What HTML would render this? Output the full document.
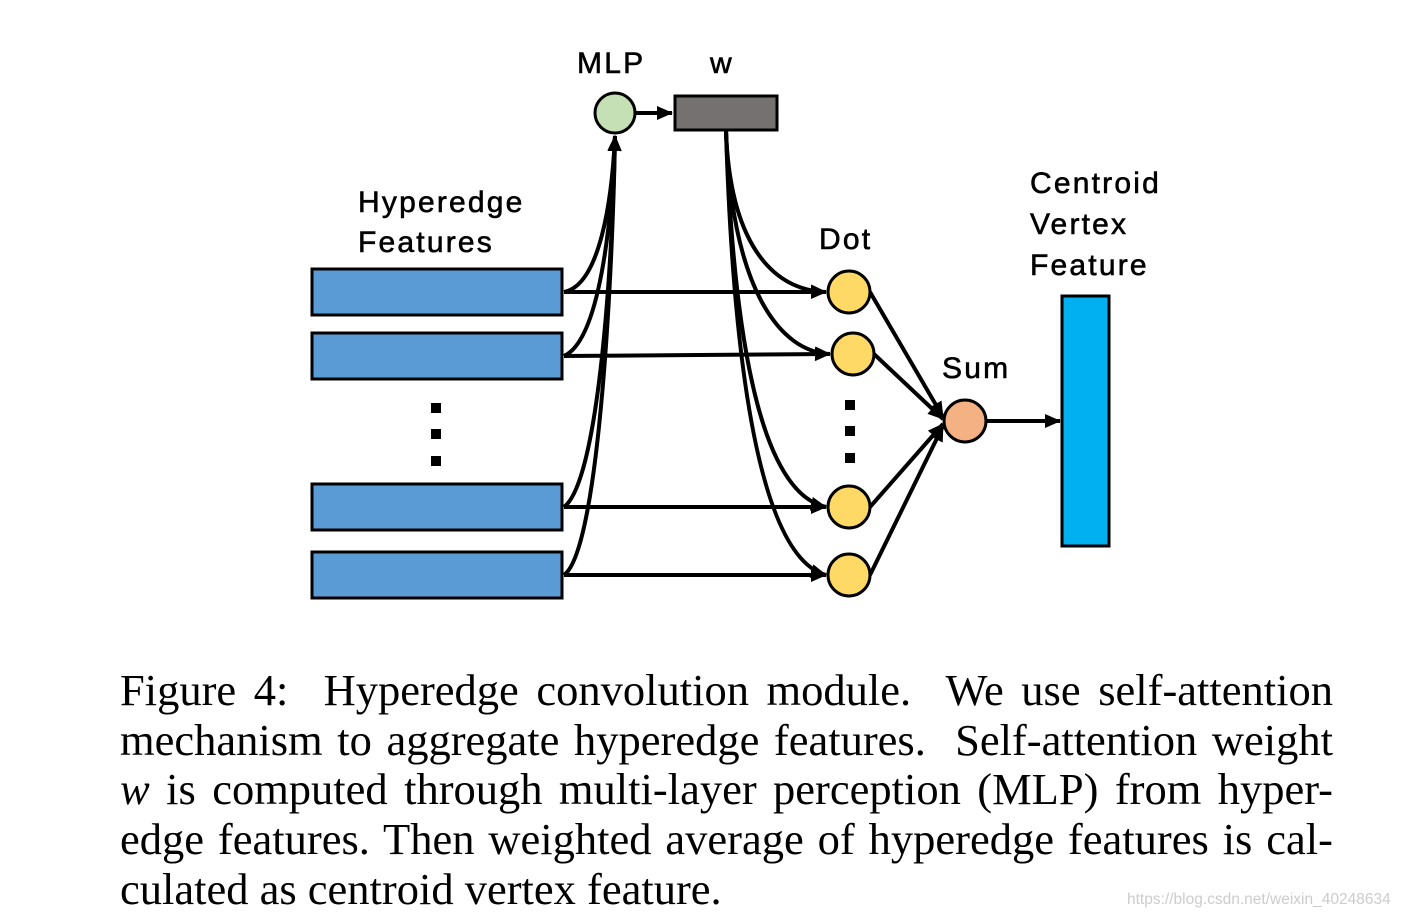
<!DOCTYPE html>
<html><head><meta charset="utf-8"><style>
body{margin:0;background:#fff;width:1408px;height:919px;overflow:hidden;position:relative}
.cap{position:absolute;left:120px;width:1213px;top:666px;font-family:"Liberation Serif",serif;font-size:44.5px;line-height:49.7px;text-align:justify;color:#000}
.cap div{text-align-last:justify;white-space:nowrap}
.cap div.last{text-align-last:left}
.wm{position:absolute;left:1127px;top:891px;font-family:"Liberation Sans",sans-serif;font-size:15.5px;color:#ccc}
</style></head><body>
<svg width="1408" height="919" style="position:absolute;left:0;top:0" xmlns="http://www.w3.org/2000/svg">
<defs><marker id="b" markerWidth="16" markerHeight="14" refX="15" refY="7" orient="auto" markerUnits="userSpaceOnUse"><path d="M0,0 L16,7 L0,14z" fill="#000"/></marker></defs>
<g font-family="Liberation Sans,sans-serif" font-size="30" letter-spacing="2.2" fill="#000" stroke="#000" stroke-width="0.6">
<text x="577" y="73">MLP</text><text x="710" y="73">w</text>
<text x="358" y="212">Hyperedge</text><text x="358" y="252">Features</text>
<text x="819" y="249">Dot</text><text x="942" y="378">Sum</text>
<text x="1030" y="193">Centroid</text><text x="1030" y="234">Vertex</text><text x="1030" y="275">Feature</text>
</g>
<g stroke="#000" stroke-width="4" fill="none">
<path d="M564 292 C600 285,612 200,615 136" marker-end="url(#b)"/>
<path d="M564 356 C600 340,612 220,615 136" marker-end="url(#b)"/>
<path d="M564 507 C600 480,613 250,615 136" marker-end="url(#b)"/>
<path d="M564 575 C600 550,613 260,615 136" marker-end="url(#b)"/>
<path d="M564 292 L826 292" marker-end="url(#b)"/>
<path d="M564 356 L830 354" marker-end="url(#b)"/>
<path d="M564 507 L826 507" marker-end="url(#b)"/>
<path d="M564 575 L826 575" marker-end="url(#b)"/>
<path d="M726 131 C730 240,770 290,826 292" marker-end="url(#b)"/>
<path d="M726 131 C732 290,780 352,830 354" marker-end="url(#b)"/>
<path d="M726 131 C735 380,770 495,826 507" marker-end="url(#b)"/>
<path d="M726 131 C735 420,770 560,826 575" marker-end="url(#b)"/>
<path d="M636 113 L672 113" marker-end="url(#b)"/>
<path d="M870 292 L943 417" marker-end="url(#b)"/>
<path d="M874 354 L943 419" marker-end="url(#b)"/>
<path d="M870 507 L943 424" marker-end="url(#b)"/>
<path d="M870 575 L943 426" marker-end="url(#b)"/>
<path d="M986 421 L1060 421" marker-end="url(#b)"/>
</g>
<g stroke="#000" stroke-width="3">
<rect x="312" y="269" width="250" height="46" fill="#5b9bd5"/>
<rect x="312" y="333" width="250" height="46" fill="#5b9bd5"/>
<rect x="312" y="484" width="250" height="46" fill="#5b9bd5"/>
<rect x="312" y="552" width="250" height="46" fill="#5b9bd5"/>
<circle cx="615" cy="113" r="20" fill="#c5e0b4"/>
<rect x="675" y="96" width="102" height="34" fill="#767171"/>
<circle cx="849" cy="292" r="21" fill="#ffd966"/>
<circle cx="853" cy="354" r="21" fill="#ffd966"/>
<circle cx="849" cy="507" r="21" fill="#ffd966"/>
<circle cx="849" cy="575" r="21" fill="#ffd966"/>
<circle cx="965" cy="421" r="21" fill="#f4b183"/>
<rect x="1062" y="296" width="47" height="250" fill="#00b0f0"/>
</g>
<g fill="#000">
<rect x="431" y="403" width="10" height="10"/><rect x="431" y="429" width="10" height="10"/><rect x="431" y="456" width="10" height="10"/>
<rect x="845" y="400" width="10" height="10"/><rect x="845" y="426" width="10" height="10"/><rect x="845" y="453" width="10" height="10"/>
</g>
</svg>
<div class="cap">
<div>Figure 4:&nbsp; Hyperedge convolution module.&nbsp; We use self-attention</div>
<div>mechanism to aggregate hyperedge features.&nbsp; Self-attention weight</div>
<div><i>w</i> is computed through multi-layer perception (MLP) from hyper-</div>
<div>edge features. Then weighted average of hyperedge features is cal-</div>
<div class="last">culated as centroid vertex feature.</div>
</div>
<div class="wm">https://blog.csdn.net/weixin_40248634</div>
</body></html>
